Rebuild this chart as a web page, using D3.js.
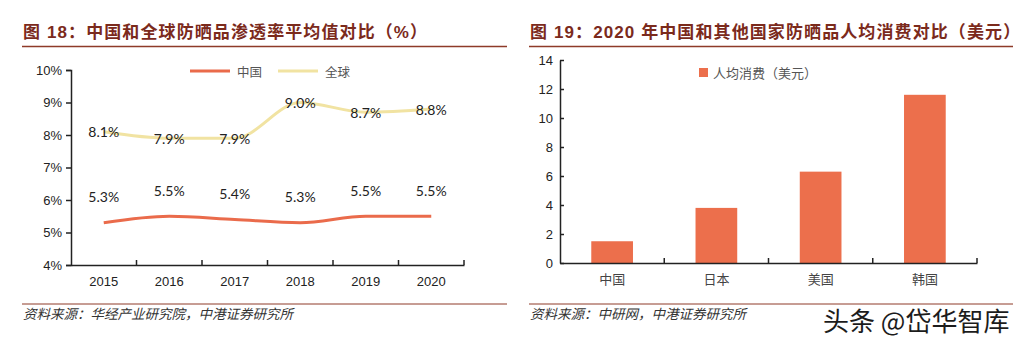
<!DOCTYPE html>
<html>
<head>
<meta charset="utf-8">
<script src="https://cdn.jsdelivr.net/npm/d3@7"></script>
<style>
  html, body { margin: 0; padding: 0; background: #fff; }
  svg { display: block; }
</style>
</head>
<body>
<div id="place"></div>
<script>
(function() {

	// penetration rate, %
	const years = ["2015", "2016", "2017", "2018", "2019", "2020"];
	const chinaRate = [5.3, 5.5, 5.4, 5.3, 5.5, 5.5];
	const globalRate = [8.1, 7.9, 7.9, 9.0, 8.7, 8.8];
	const rateTicks = [4, 5, 6, 7, 8, 9, 10];

	// per capita spend 2020, USD
	const countries = ["中国", "日本", "美国", "韩国"];
	const spend = [1.5, 3.8, 6.3, 11.6];
	const spendTicks = [0, 2, 4, 6, 8, 10, 12, 14];

	const W = 1022, H = 347;
	const titleColor = "#7b2a1c",
		  ruleColor = "#8e3b29",
		  red = "#ea6b4b",
		  yellow = "#f1e3a2",
		  bar = "#ec6f4c",
		  sans = "'Liberation Sans', Arial, 'Noto Sans CJK SC', sans-serif",
		  cjk = "'Noto Sans CJK SC', sans-serif";

	let svg = d3.select("#place").append("svg")
		.attr('width', W)
		.attr('height', H)

	// titles, rules and sources for both panels
	const panels = [
		{ x0: 22, x1: 507, title: "图 18：中国和全球防晒品渗透率平均值对比（%）", src: "资料来源：华经产业研究院，中港证券研究所" },
		{ x0: 529, x1: 1013, title: "图 19：2020 年中国和其他国家防晒品人均消费对比（美元）", src: "资料来源：中研网，中港证券研究所" }
	];

	panels.forEach(p => {
		svg.append('text')
			.attr('x', p.x0 + 1)
			.attr('y', 38)
			.attr('fill', titleColor)
			.style('font-family', sans)
			.style('font-size', '17px')
			.style('font-weight', 'bold')
			.style('letter-spacing', '1.1px')
			.text(p.title)
		svg.append('line')
			.attr('x1', p.x0).attr('x2', p.x1)
			.attr('y1', 46.5).attr('y2', 46.5)
			.attr('stroke', ruleColor)
			.attr('stroke-width', 1.3)
		svg.append('line')
			.attr('x1', p.x0).attr('x2', p.x1)
			.attr('y1', 304).attr('y2', 304)
			.attr('stroke', ruleColor)
			.attr('stroke-width', 1)
		svg.append('text')
			.attr('x', p.x0 + 1)
			.attr('y', 319)
			.attr('fill', '#333')
			.style('font-family', cjk)
			.style('font-size', '13.5px')
			.style('font-style', 'italic')
			.text(p.src)
	});

	// ---- left: line chart ----
	const x = d3.scaleBand().domain(years).range([71, 464]);
	const y = d3.scaleLinear().domain([4, 10]).range([265, 70]);

	const left = svg.append('g');

	left.append('g')
		.attr('transform', 'translate(71,0)')
		.call(d3.axisLeft(y).tickValues(rateTicks).tickSize(5).tickFormat(d => d + "%"))
		.call(g => g.select('.domain').attr('stroke', '#222').attr('stroke-width', 1.5))
		.call(g => g.selectAll('.tick line').attr('stroke', '#222').attr('stroke-width', 1.5))
		.call(g => g.selectAll('.tick text').attr('x', -9).attr('fill', '#222')
			.style('font-family', sans).style('font-size', '13px'))

	left.append('g')
		.attr('transform', 'translate(0,265)')
		.call(d3.axisBottom(x).tickSize(0).tickSizeOuter(0))
		.call(g => g.select('.domain').attr('stroke', '#222').attr('stroke-width', 1.5))
		.call(g => g.selectAll('.tick text').attr('y', 12).attr('fill', '#222')
			.style('font-family', sans).style('font-size', '13px'))

	// category boundary ticks, pointing into the plot
	left.append('g').selectAll('line')
		.data(years.slice(1).concat(['end']))
	  .enter().append('line')
		.attr('x1', (d, i) => x(years[0]) + x.step() * (i + 1))
		.attr('x2', (d, i) => x(years[0]) + x.step() * (i + 1))
		.attr('y1', 265).attr('y2', 260)
		.attr('stroke', '#222')
		.attr('stroke-width', 1.5)

	const cx = d => x(d) + x.bandwidth() / 2;
	const line = d3.line()
		.x(d => cx(d.year))
		.y(d => y(d.v))
		.curve(d3.curveMonotoneX);

	const series = [
		{ name: "中国", color: red, vals: chinaRate, dy: -26 },
		{ name: "全球", color: yellow, vals: globalRate, dy: 0 }
	];

	series.forEach(s => {
		const pts = years.map((yr, i) => ({ year: yr, v: s.vals[i] }));
		left.append('path')
			.datum(pts)
			.attr('d', line)
			.attr('fill', 'none')
			.attr('stroke', s.color)
			.attr('stroke-width', 3)
		left.append('g').selectAll('text')
			.data(pts)
		  .enter().append('text')
			.attr('x', d => cx(d.year))
			.attr('y', d => y(d.v) + s.dy)
			.attr('text-anchor', 'middle')
			.attr('dominant-baseline', 'central')
			.attr('fill', '#222')
			.style('font-family', "Lato, 'Open Sans', sans-serif")
			.style('font-size', '14px')
			.text(d => d.v.toFixed(1) + "%")
	});

	// legend
	const lg = left.append('g').selectAll('g')
		.data(series)
	  .enter().append('g')
		.attr('transform', (d, i) => 'translate(' + (190 + i * 88) + ',71)')
	lg.append('line')
		.attr('x1', 0).attr('x2', 40)
		.attr('stroke', d => d.color)
		.attr('stroke-width', 3)
	lg.append('text')
		.attr('x', 47)
		.attr('dominant-baseline', 'central')
		.attr('fill', '#555')
		.style('font-family', cjk)
		.style('font-size', '12.5px')
		.text(d => d.name)

	// ---- right: bar chart ----
	const xb = d3.scaleBand().domain(countries).range([560, 977]).paddingInner(0.6).paddingOuter(0.3);
	const yb = d3.scaleLinear().domain([0, 14]).range([263, 60]);

	const right = svg.append('g');

	right.append('g')
		.attr('transform', 'translate(560,0)')
		.call(d3.axisLeft(yb).tickValues(spendTicks).tickSize(0))
		.call(g => g.select('.domain').attr('stroke', '#222').attr('stroke-width', 1.5))
		.call(g => g.selectAll('.tick text').attr('x', -7).attr('fill', '#222')
			.style('font-family', sans).style('font-size', '13px'))
		.call(g => g.selectAll('.tick').append('line')
			.attr('x1', 0).attr('x2', 4)
			.attr('stroke', '#222').attr('stroke-width', 1.5))

	right.append('g').selectAll('rect')
		.data(countries)
	  .enter().append('rect')
		.attr('x', d => xb(d))
		.attr('y', (d, i) => yb(spend[i]))
		.attr('width', xb.bandwidth())
		.attr('height', (d, i) => yb(0) - yb(spend[i]))
		.attr('fill', bar)

	right.append('g')
		.attr('transform', 'translate(0,263)')
		.call(d3.axisBottom(xb).tickSize(0).tickSizeOuter(0))
		.call(g => g.select('.domain').attr('stroke', '#222').attr('stroke-width', 1.5))
		.call(g => g.selectAll('.tick text').attr('y', 12).attr('fill', '#444')
			.style('font-family', cjk).style('font-size', '13px'))

	right.append('g').selectAll('line')
		.data(countries)
	  .enter().append('line')
		.attr('x1', (d, i) => 560 + xb.step() * (i + 1))
		.attr('x2', (d, i) => 560 + xb.step() * (i + 1))
		.attr('y1', 263).attr('y2', 258)
		.attr('stroke', '#222')
		.attr('stroke-width', 1.5)

	right.append('rect')
		.attr('x', 699).attr('y', 68)
		.attr('width', 9).attr('height', 9)
		.attr('fill', bar)
	right.append('text')
		.attr('x', 713).attr('y', 72.5)
		.attr('dominant-baseline', 'central')
		.attr('fill', '#555')
		.style('font-family', cjk)
		.style('font-size', '13px')
		.text("人均消费（美元）")

	// watermark
	svg.append('text')
		.attr('x', 823).attr('y', 331)
		.attr('fill', '#1c1c1c')
		.attr('stroke', '#fff')
		.attr('stroke-width', 2)
		.attr('paint-order', 'stroke')
		.style('font-family', cjk)
		.style('font-size', '26px')
		.text("头条 @岱华智库")

})()
</script>
</body>
</html>
